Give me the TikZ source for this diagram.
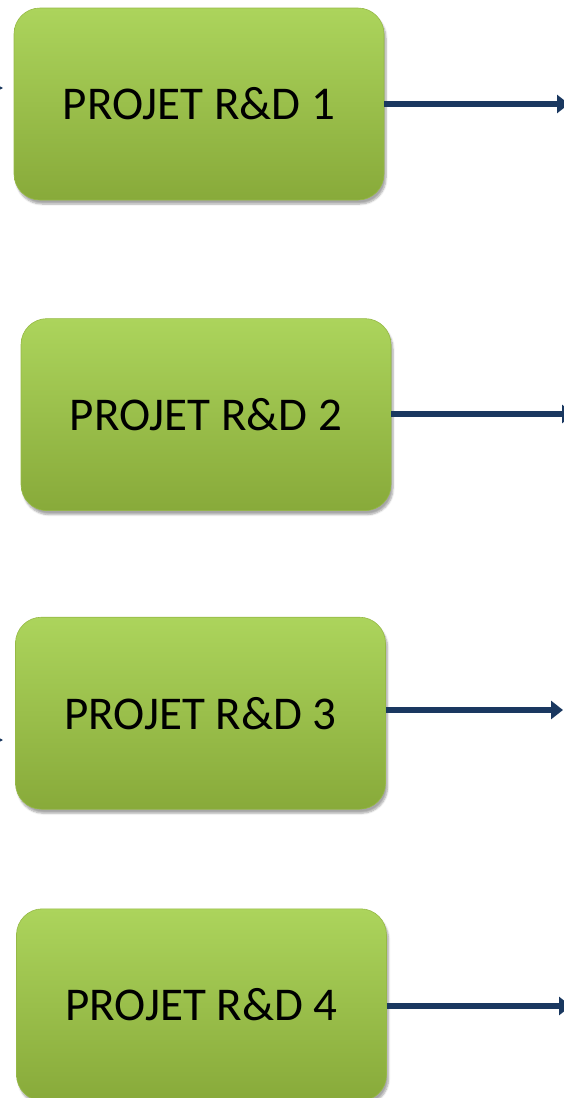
\documentclass[tikz,border=0pt]{standalone}
\usepackage{fontspec}
\setmainfont{Carlito}
\usetikzlibrary{shapes, arrows.meta, positioning, shadows.blur}
\definecolor{greentop}{RGB}{172,212,92}
\definecolor{greenbot}{RGB}{136,170,58}
\definecolor{greenedge}{RGB}{150,185,70}
\definecolor{navy}{RGB}{26,56,96}
\tikzstyle{project} = [rectangle, rounded corners=26pt, minimum width=370pt, minimum height=192pt, text centered, draw=greenedge, line width=0.6pt, top color=greentop, bottom color=greenbot, blur shadow={shadow xshift=2pt, shadow yshift=-4pt, shadow blur steps=6, shadow opacity=35}, font=\fontsize{47}{52}\selectfont]
\tikzstyle{arrow} = [draw=navy, line width=6pt, -{Triangle[length=12pt, width=18pt]}]

\begin{document}
\begin{tikzpicture}[x=1pt, y=-1pt]
        \useasboundingbox (0,0) rectangle (564,1098);
        % Nodes
        \node (proj1) [project] at (199,104) {PROJET R\&D 1};
        \node (proj2) [project, below=118pt of proj1, xshift=7pt] {PROJET R\&D 2};
        \node (proj3) [project, below=106pt of proj2, xshift=-5.5pt] {PROJET R\&D 3};
        \node (proj4) [project, below=99pt of proj3, xshift=1pt] {PROJET R\&D 4};

        % Free ends of the arrows
        \coordinate (out1) at (569,104);
        \coordinate (out2) at (574,414);
        \coordinate (out3) at (563,710);
        \coordinate (out4) at (571,1006);

        % Arrows
        \draw [arrow] (proj1.east |- out1) -- (out1);
        \draw [arrow] (proj2.east |- out2) -- (out2);
        \draw [arrow] (proj3.east |- out3) -- (out3);
        \draw [arrow] (proj4.east |- out4) -- (out4);

        % Marks at the left edge
        \coordinate (mark1) at (-6,88);
        \coordinate (mark3) at (-6,740);
        \draw [arrow, line width=1.2pt, -{Triangle[length=4pt, width=4pt]}] (mark1) -- ++(9,0);
        \draw [arrow, line width=1.2pt, -{Triangle[length=4pt, width=4pt]}] (mark3) -- ++(9,0);
\end{tikzpicture}
\end{document}
